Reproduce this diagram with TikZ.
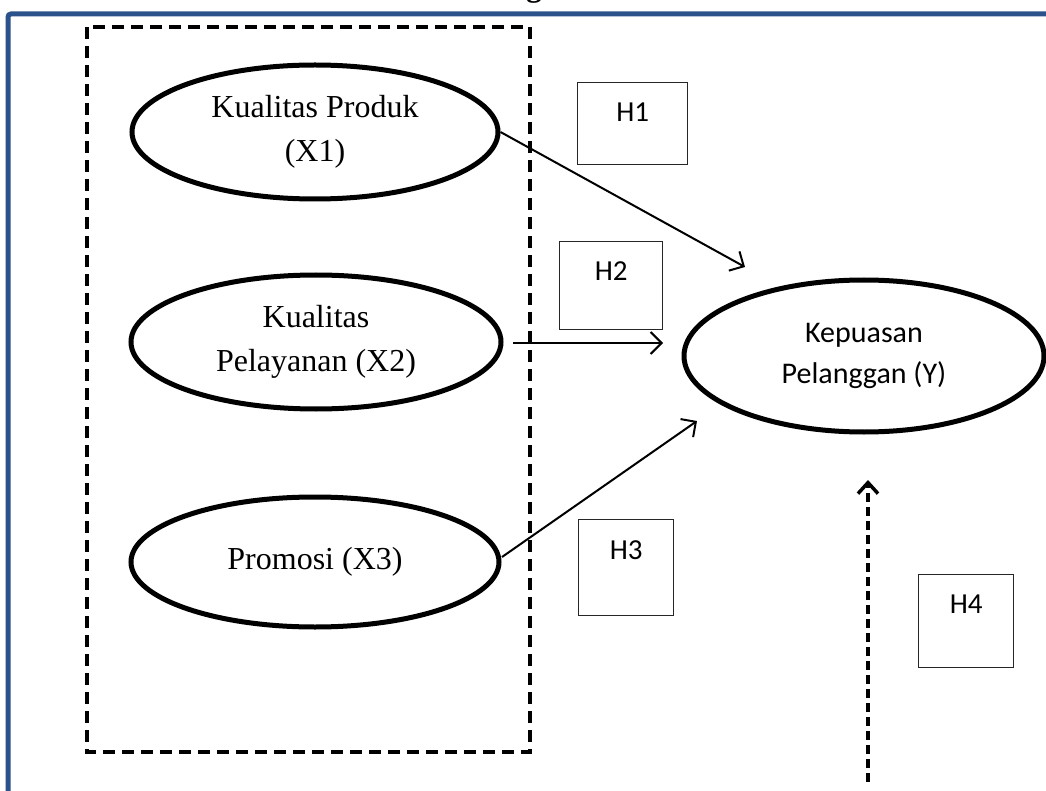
\documentclass[tikz,border=0pt]{standalone}
\usepackage{fontspec}
\setmainfont{Liberation Serif}
\newfontfamily\calibri{Carlito}
\usetikzlibrary{shapes.geometric,arrows.meta}
\definecolor{frameblue}{RGB}{44,82,140}
\tikzset{
  var/.style={ellipse, draw, line width=5pt, inner sep=0pt, align=center,
              font=\fontsize{32}{44}\selectfont},
  dep/.style={ellipse, draw, line width=5pt, inner sep=0pt, align=center,
              font=\calibri\fontsize{30}{41}\selectfont},
  hbox/.style={rectangle, draw=black!85, line width=1.3pt, inner sep=0pt, anchor=north west},
  htext/.style={font=\calibri\fontsize{29}{34}\selectfont, inner sep=0pt},
  arr/.style={line width=2pt, -{Straight Barb[length=11pt,width=22pt,line width=2pt]}},
  darr/.style={line width=4pt, dash pattern=on 9pt off 5pt,
               -{Straight Barb[length=11pt,width=20pt,line width=3.5pt]}},
  groupbox/.style={draw, line width=4pt, dash pattern=on 12pt off 7pt}
}
\begin{document}
\begin{tikzpicture}[x=1pt,y=-1pt]
\useasboundingbox (0,0) rectangle (1046,791);
\fill[white] (0,0) rectangle (1046,791);
% cut-off title glyph
\node[anchor=base, inner sep=0pt, font=\fontsize{31}{31}\selectfont\bfseries] (ttl) at (534,-3) {g};
% blue frame
\draw[frameblue, line width=5pt, rounded corners=3pt] (8,800) -- (8,14) -- (1060,14);
% dashed group box
\draw[groupbox] (87,27) rectangle (530,752);
% ellipses
\node[var, minimum width=366pt, minimum height=134pt] (x1) at (315,132) {Kualitas Produk\\(X1)};
\node[var, minimum width=370pt, minimum height=134pt] (x2) at (316,342) {Kualitas\\Pelayanan (X2)};
\node[var, minimum width=368pt, minimum height=130pt] (x3) at (315,562) {Promosi (X3)};
\node[dep, minimum width=360pt, minimum height=152pt] (y) at (864,356) {Kepuasan\\Pelanggan (Y)};
% hypothesis boxes
\node[hbox, minimum width=110pt, minimum height=82pt] (h1) at (577,82) {};
\node[htext] at ([yshift=-30]h1.north) {H1};
\node[hbox, minimum width=103pt, minimum height=88pt] (h2) at (559,241) {};
\node[htext] at ([yshift=-30]h2.north) {H2};
\node[hbox, minimum width=95pt, minimum height=96pt] (h3) at (578,519) {};
\node[htext] at ([yshift=-31]h3.north) {H3};
\node[hbox, minimum width=95pt, minimum height=93pt] (h4) at (918,574) {};
\node[htext] at ([yshift=-30]h4.north) {H4};
% arrow ends
\coordinate (t1) at (745,267);
\coordinate (s2) at (513,343);
\coordinate (t2) at (663,343);
\coordinate (s3) at (502,557);
\coordinate (t3) at (697,421);
\coordinate (s4) at (868,782);
\coordinate (t4) at (868,480);
\draw[arr] (x1.east) -- (t1);
\draw[arr] (s2) -- (t2);
\draw[arr] (s3) -- (t3);
\draw[darr] (s4) -- (t4);
\end{tikzpicture}
\end{document}
